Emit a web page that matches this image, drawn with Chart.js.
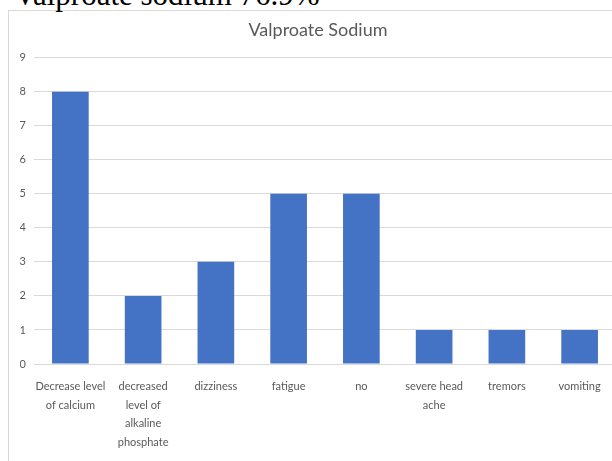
<!DOCTYPE html>
<html>
<head>
<meta charset="utf-8">
<script src="https://cdn.jsdelivr.net/npm/chart.js@4/dist/chart.umd.min.js"></script>
<style>
  html, body { margin: 0; padding: 0; background: #ffffff; overflow: hidden; width: 612px; height: 461px; }
  #caption {
    position: absolute; left: 14px; top: -21px;
    font-family: "Liberation Serif", "Times New Roman", serif;
    font-size: 31px; line-height: 1; color: #000000; white-space: nowrap;
  }
  #frame {
    position: absolute; left: 8px; top: 10px; width: 700px; height: 600px;
    border-left: 1px solid #d9d9d9; border-top: 1px solid #d9d9d9;
  }
  #chart { position: absolute; left: 0; top: 0; }
</style>
</head>
<body>
<div id="frame"></div>
<div id="caption">Valproate sodium 76.9%</div>
<canvas id="chart" width="616" height="461"></canvas>
<script>
// Side effects reported with valproate sodium (number of patients)
const categories = [
  ["Decrease level", "of calcium"],
  ["decreased", "level of", "alkaline", "phosphate"],
  ["dizziness"],
  ["fatigue"],
  ["no"],
  ["severe head", "ache"],
  ["tremors"],
  ["vomiting"]
];
const counts = [8, 2, 3, 5, 5, 1, 1, 1];
const yMin = 0;
const yMax = 9;
const yStep = 1;

const textGray = "#595959";
const gridGray = "#d9d9d9";
const barBlue = "#4472C4";

new Chart(document.getElementById("chart"), {
  type: "bar",
  data: {
    labels: categories,
    datasets: [{
      label: "Valproate Sodium",
      data: counts,
      backgroundColor: barBlue,
      borderWidth: 0,
      barPercentage: 0.504,
      categoryPercentage: 1
    }]
  },
  options: {
    responsive: false,
    animation: false,
    devicePixelRatio: 1,
    layout: { padding: { left: 20, right: 0, top: 0, bottom: 0 } },
    plugins: {
      legend: { display: false },
      tooltip: { enabled: false },
      title: {
        display: true,
        text: "Valproate Sodium",
        color: textGray,
        font: { family: "Lato", size: 18, weight: "normal", lineHeight: 1.2 },
        padding: { top: 19, bottom: 17 }
      }
    },
    scales: {
      x: {
        grid: { display: false, drawTicks: false },
        border: { display: false },
        ticks: {
          color: textGray,
          font: { family: "Lato", size: 11, lineHeight: 1.7 },
          padding: 13,
          maxRotation: 0,
          autoSkip: false
        },
        afterFit: (scale) => { scale.height = 97; }
      },
      y: {
        min: yMin,
        max: yMax,
        grid: { color: gridGray, lineWidth: 1, drawTicks: false },
        border: { display: false },
        ticks: {
          stepSize: yStep,
          color: textGray,
          font: { family: "Lato", size: 11 },
          padding: 8
        },
        afterFit: (scale) => { scale.width = 14; }
      }
    }
  }
});
</script>
</body>
</html>
